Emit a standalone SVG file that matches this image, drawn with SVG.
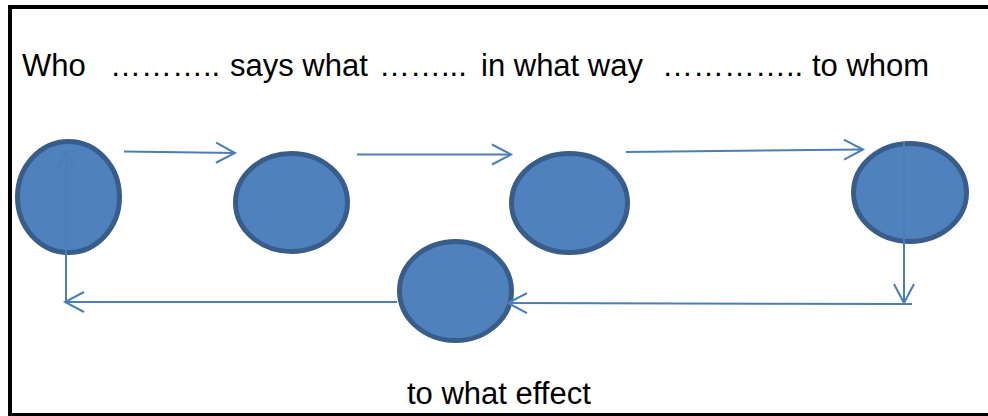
<svg xmlns="http://www.w3.org/2000/svg" width="988" height="416" viewBox="0 0 988 416">
<style>
.frame{fill:none;stroke:#000;stroke-width:4}
.node{fill:#4F81BD;stroke:#385D8A;stroke-width:5}
.conn{fill:none;stroke:#4A7EBB;stroke-width:2;marker-end:url(#vhead)}
.txt{font-family:"Liberation Sans",Arial,sans-serif;font-size:31px;fill:#000}
</style>
<defs>
<marker id="vhead" markerUnits="userSpaceOnUse" viewBox="-22 -12 24 24" refX="0" refY="0" markerWidth="24" markerHeight="24" orient="auto" overflow="visible">
<path d="M -19 -10 L 0 0 L -19 10" fill="none" stroke="#4A7EBB" stroke-width="2"/>
</marker>
</defs>
<rect class="frame" x="10" y="7" width="1000" height="408"/>
<text class="txt" y="76"><tspan x="22">Who</tspan><tspan x="110">………..</tspan><tspan x="230">says what</tspan><tspan x="379">……...</tspan><tspan x="481">in what way</tspan><tspan x="662">…………..</tspan><tspan x="812">to whom</tspan></text>
<text class="txt" x="407" y="404">to what effect</text>
<g id="node-who"><ellipse class="node" cx="68.5" cy="197" rx="51" ry="55.5"/></g>
<g id="node-says-what"><ellipse class="node" cx="291.5" cy="202.5" rx="56" ry="49"/></g>
<g id="node-in-what-way"><ellipse class="node" cx="569.5" cy="203" rx="58" ry="49.5"/></g>
<g id="node-to-whom"><ellipse class="node" cx="910" cy="192.5" rx="56.5" ry="49"/></g>
<g id="node-effect"><ellipse class="node" cx="455.5" cy="291" rx="56" ry="49.5"/></g>
<g id="connectors">
<path class="conn" d="M 124 151.5 L 235 153"/>
<path class="conn" d="M 357 154.5 L 511 154.5"/>
<path class="conn" d="M 626 152 L 863 149.5"/>
<path class="conn" d="M 904 142 L 904 303"/>
<path class="conn" d="M 912 304 L 508 303"/>
<path class="conn" d="M 397 302 L 65 302"/>
<path class="conn" d="M 66 302 L 66 152"/>
</g>
</svg>
